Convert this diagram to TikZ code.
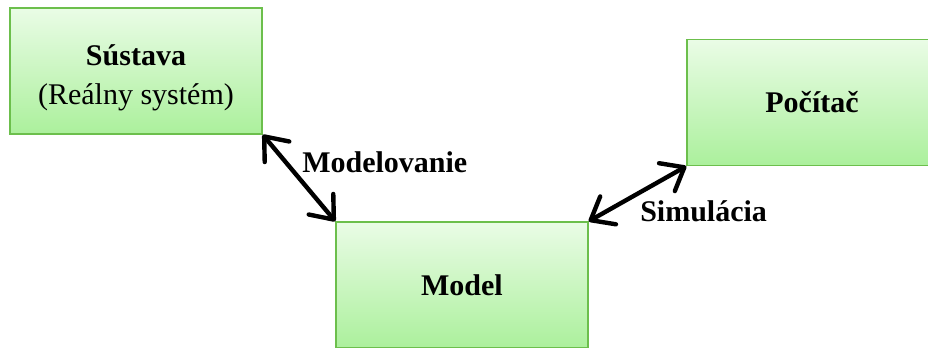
\documentclass[tikz,border=0pt]{standalone}
\usepackage{fontspec}
\setmainfont{Liberation Serif}
\usetikzlibrary{arrows.meta}

\definecolor{boxtop}{HTML}{EAFCE6}
\definecolor{boxbottom}{HTML}{ABF09C}
\definecolor{boxline}{HTML}{6CBF4C}

\begin{document}
\begin{tikzpicture}[x=0.75pt, y=-0.75pt,
    block/.style={draw=boxline, line width=1.1pt, top color=boxtop, bottom color=boxbottom,
      minimum width=189pt, minimum height=94.5pt, inner sep=0pt, align=center,
      font=\fontsize{22.5}{29}\selectfont\bfseries},
    link/.style={line width=3.3pt, {Straight Barb[length=15pt, width=24pt, round]}-{Straight Barb[length=15pt, width=24pt, round]}},
    tag/.style={anchor=base west, inner sep=0pt, font=\fontsize{22.5}{27}\selectfont\bfseries}]
  \clip (0,0) rectangle (928,347);
  \fill[white] (0,0) rectangle (928,347);

  % the three blocks
  \node[block] (sustava) at (136,71) {\rule{0pt}{26pt}S\'ustava\\{\mdseries (Re\'alny syst\'em)}};
  \node[block] (model) at (462,285) {Model};
  \node[block, minimum width=187.5pt] (pocitac) at (812,102.5) {Po\v{c}\'ita\v{c}};

  % links between them
  \draw[link] (sustava.south east) -- (model.north west);
  \draw[link] (model.north east) -- (pocitac.south west);

  \node[tag] (modelovanie) at (302,172) {Modelovanie};
  \node[tag] (simulacia) at (640,221) {Simul\'acia};
\end{tikzpicture}
\end{document}
